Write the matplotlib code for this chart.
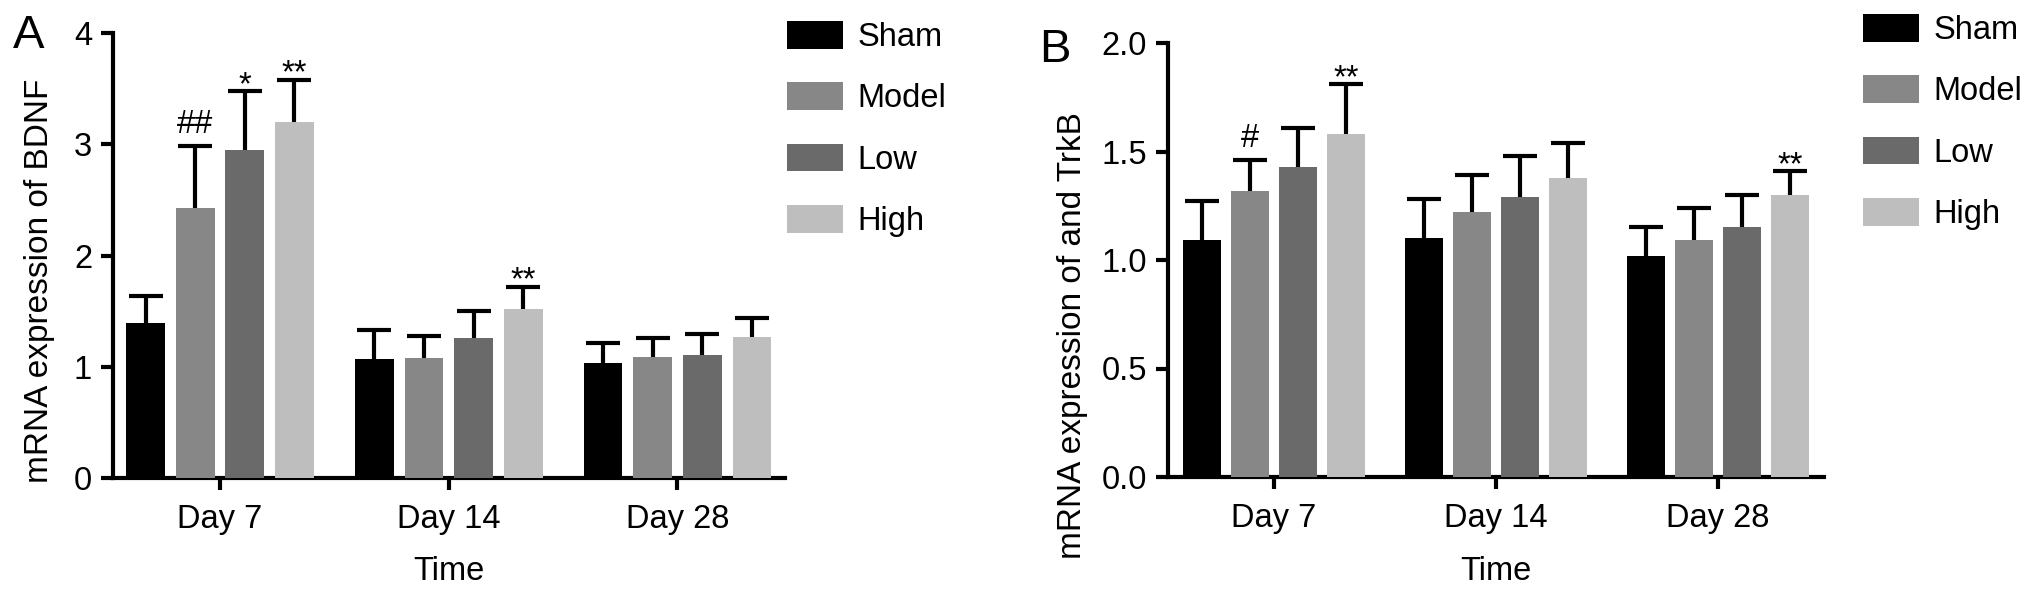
import matplotlib
matplotlib.use("Agg")
import matplotlib.pyplot as plt
from matplotlib.patches import Patch
import numpy as np

plt.rcParams['font.family'] = ['Liberation Sans', 'DejaVu Sans']

# ---------------- data ----------------
time_points = ["Day 7", "Day 14", "Day 28"]
groups = ["Sham", "Model", "Low", "High"]
colors = ["#000000", "#878787", "#6a6a6a", "#bebebe"]

# Panel A: BDNF
bdnf_sham = [1.39, 1.07, 1.03]
bdnf_model = [2.43, 1.08, 1.09]
bdnf_low = [2.95, 1.26, 1.11]
bdnf_high = [3.20, 1.52, 1.27]
bdnf_sham_err = [0.25, 0.26, 0.18]
bdnf_model_err = [0.55, 0.20, 0.17]
bdnf_low_err = [0.53, 0.24, 0.18]
bdnf_high_err = [0.38, 0.20, 0.17]
bdnf_marks = [(0, 1, "##"), (0, 2, "*"), (0, 3, "**"), (1, 3, "**")]

# Panel B: TrkB
trkb_sham = [1.09, 1.10, 1.02]
trkb_model = [1.32, 1.22, 1.09]
trkb_low = [1.43, 1.29, 1.15]
trkb_high = [1.58, 1.38, 1.30]
trkb_sham_err = [0.18, 0.18, 0.13]
trkb_model_err = [0.14, 0.17, 0.15]
trkb_low_err = [0.18, 0.19, 0.15]
trkb_high_err = [0.23, 0.16, 0.11]
trkb_marks = [(0, 1, "#"), (0, 3, "**"), (2, 3, "**")]

yticks_a = [0, 1, 2, 3, 4]
yticks_b = [0.0, 0.5, 1.0, 1.5, 2.0]

# ---------------- figure ----------------
W, H = 2031, 594
fig = plt.figure(figsize=(W / 100, H / 100), dpi=100)

FS = 23.5
LW = 3.0


def px2fig(x0, y0, x1, y1):
    return [x0 / W, 1 - y1 / H, (x1 - x0) / W, (y1 - y0) / H]


def panel(rect, means, errs, marks, ylim, yticks, yfmt, ylabel, ylab_xy, letter, letter_xy,
          legend_xy, xlim):
    ax = fig.add_axes(rect)
    x = np.arange(len(time_points))
    step = 0.217
    width = 0.17
    for i, (m, e) in enumerate(zip(means, errs)):
        xi = x + (i - 1.5) * step
        ax.bar(xi, m, width=width, color=colors[i], edgecolor="none", zorder=3, label=groups[i])
        ax.errorbar(xi, m, yerr=e, fmt="none", ecolor="black", elinewidth=LW,
                    capsize=12.5, capthick=LW, zorder=2)
    for (g, s, txt) in marks:
        xi = x[g] + (s - 1.5) * step
        top = means[s][g] + errs[s][g]
        off = 13 if txt.startswith("#") else -3
        ax.annotate(txt, (xi, top), xytext=(0, off * 0.72), textcoords="offset points",
                    ha="center", va="baseline", fontsize=FS, zorder=5)
    ax.set_xlim(*xlim)
    ax.set_ylim(*ylim)
    ax.set_yticks(yticks)
    ax.set_yticklabels([yfmt.format(v) for v in yticks])
    ax.set_xticks(x)
    ax.set_xticklabels(time_points)
    for sp in ["top", "right"]:
        ax.spines[sp].set_visible(False)
    for sp in ["left", "bottom"]:
        ax.spines[sp].set_linewidth(LW)
    ax.tick_params(axis="both", direction="out", length=8.5, width=LW, labelsize=FS)
    ax.tick_params(axis="x", pad=10)
    ax.tick_params(axis="y", pad=6.5)
    ax.set_xlabel("Time", fontsize=FS)
    ax.set_ylabel(ylabel, fontsize=24)
    ax.yaxis.set_label_coords(*ylab_xy)
    h = rect[3] * H
    ax.xaxis.set_label_coords(0.5, -(556 - (1 - rect[1]) * H) / h)
    fig.text(letter_xy[0] / W, 1 - letter_xy[1] / H, letter, fontsize=34,
             ha="left", va="baseline")
    handles = [Patch(facecolor=c, edgecolor="none") for c in colors]
    fig.legend(handles, groups, loc="upper left",
               bbox_to_anchor=(legend_xy[0] / W, 1 - legend_xy[1] / H),
               frameon=False, fontsize=FS, borderpad=0, borderaxespad=0,
               handlelength=1.72, handleheight=0.92, handletextpad=0.45,
               labelspacing=0.9)
    return ax


axA = panel(px2fig(113, 33, 785, 478),
            [bdnf_sham, bdnf_model, bdnf_low, bdnf_high],
            [bdnf_sham_err, bdnf_model_err, bdnf_low_err, bdnf_high_err],
            bdnf_marks, (0, 4), yticks_a, "{:.0f}", "mRNA expression of BDNF",
            (-0.087, 0.443), "A", (13, 48), (787, 21), (-0.468, 2.47))

axB = panel(px2fig(1168, 43, 1824, 477),
            [trkb_sham, trkb_model, trkb_low, trkb_high],
            [trkb_sham_err, trkb_model_err, trkb_low_err, trkb_high_err],
            trkb_marks, (0, 2), yticks_b, "{:.1f}", "mRNA expression of and TrkB",
            (-0.122, 0.327), "B", (1039, 62), (1863, 14), (-0.477, 2.477))

fig.savefig("out.png", dpi=100)
